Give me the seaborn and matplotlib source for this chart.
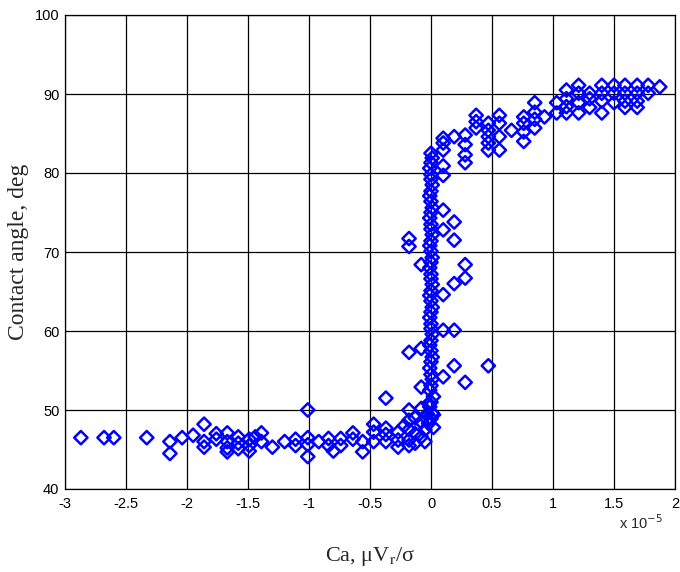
import matplotlib
matplotlib.use("Agg")
import matplotlib.pyplot as plt
import seaborn as sns
import pandas as pd

# Capillary number (units of 1e-5) and contact angle (deg)
flat_ca = [-2.87, -2.68, -2.60, -2.33, -2.14, -2.14, -2.04, -1.95, -1.86, -1.86,
           -1.86, -1.76, -1.76, -1.67, -1.67, -1.67, -1.67, -1.58, -1.58, -1.58,
           -1.49, -1.49, -1.49, -1.44, -1.39, -1.39, -1.30, -1.20, -1.11, -1.11,
           -1.01, -1.01, -1.01, -1.01, -0.92, -0.84, -0.84, -0.80, -0.74, -0.74,
           -0.64, -0.64, -0.56, -0.56, -0.47, -0.47, -0.47, -0.37, -0.37, -0.37,
           -0.37, -0.27, -0.27, -0.27, -0.22, -0.18, -0.18, -0.18, -0.18, -0.18,
           -0.13, -0.13, -0.13, -0.08, -0.08, -0.08, -0.08, -0.05, -0.05, -0.03]
flat_angle = [46.5, 46.5, 46.5, 46.5, 46.0, 44.5, 46.5, 46.8, 48.2, 46.0,
              45.3, 47.0, 46.3, 47.1, 46.0, 45.2, 44.7, 46.6, 45.8, 45.1,
              46.3, 45.5, 44.8, 46.6, 47.1, 46.0, 45.3, 46.0, 46.3, 45.5,
              50.0, 46.5, 45.6, 44.1, 46.0, 46.4, 45.5, 44.8, 46.4, 45.5,
              47.1, 46.3, 46.0, 44.7, 48.2, 47.2, 46.0, 51.5, 47.7, 46.9,
              46.0, 47.2, 46.2, 45.3, 48.0, 50.0, 48.7, 47.5, 46.2, 45.5,
              49.0, 47.0, 45.8, 52.9, 50.2, 48.5, 46.6, 47.5, 46.0, 49.5]

column_ca = [-0.02, 0.00, 0.01, -0.01, 0.00, 0.02, -0.01, 0.00, 0.01, 0.00,
             -0.01, 0.00, 0.01, 0.00, -0.01, 0.00, 0.01, 0.00, 0.00, -0.01,
             0.00, 0.01, 0.00, -0.01, 0.00, 0.01, 0.00, 0.00, -0.01, 0.00,
             0.01, 0.00, -0.01, 0.00, 0.01, 0.00, 0.00, -0.01, 0.00, 0.01,
             0.00, -0.01, 0.00, 0.01, 0.00, 0.00, -0.01, 0.00, 0.01, 0.00,
             -0.03, 0.02, -0.02, 0.02]
column_angle = [48.3, 48.9, 49.6, 50.4, 51.0, 51.7, 52.5, 53.1, 53.9, 54.5,
                55.3, 56.1, 56.7, 57.5, 58.2, 58.8, 59.6, 60.3, 60.9, 61.7,
                62.4, 63.0, 63.8, 64.5, 65.1, 65.9, 66.6, 67.2, 68.0, 68.7,
                69.3, 70.1, 70.8, 71.4, 72.2, 72.9, 73.5, 74.3, 75.0, 75.6,
                76.4, 77.1, 77.7, 78.5, 79.2, 79.8, 80.6, 81.3, 81.9, 82.5,
                48.8, 49.4, 50.8, 47.8]

side_ca = [-0.18, -0.18, -0.08, 0.10, 0.10, 0.19, 0.19, 0.28, 0.28, 0.19,
           0.10, 0.10, 0.19, -0.18, -0.08, 0.10, 0.19, 0.28, 0.47]
side_angle = [71.7, 70.7, 68.4, 75.3, 72.8, 73.8, 71.5, 68.4, 66.7, 66.0,
              64.6, 60.1, 60.1, 57.3, 57.8, 54.2, 55.6, 53.5, 55.6]

upper_ca = [0.10, 0.10, 0.10, 0.10, 0.10, 0.19, 0.28, 0.28, 0.28, 0.28,
            0.37, 0.37, 0.37, 0.47, 0.47, 0.47, 0.47, 0.47, 0.56, 0.56,
            0.56, 0.56, 0.66, 0.76, 0.76, 0.76, 0.76, 0.85, 0.85, 0.85,
            0.85, 0.93, 1.03, 1.03, 1.11, 1.11, 1.11, 1.11, 1.21, 1.21,
            1.21, 1.21, 1.30, 1.30, 1.30, 1.40, 1.40, 1.40, 1.40, 1.50,
            1.50, 1.50, 1.59, 1.59, 1.59, 1.59, 1.69, 1.69, 1.69, 1.69,
            1.78, 1.78, 1.875]
upper_angle = [84.4, 83.8, 82.9, 80.9, 79.7, 84.6, 84.8, 83.6, 82.3, 81.3,
               87.3, 86.5, 85.7, 86.3, 85.4, 84.6, 83.8, 82.9, 87.3, 86.3,
               84.6, 82.9, 85.4, 87.1, 86.3, 85.2, 84.0, 88.9, 87.7, 86.8,
               85.7, 87.1, 88.9, 87.6, 90.5, 89.4, 88.4, 87.6, 91.1, 90.1,
               88.9, 87.6, 90.1, 89.4, 88.3, 91.1, 90.1, 89.1, 87.6, 91.1,
               90.1, 88.9, 91.1, 90.1, 89.1, 88.3, 91.1, 90.1, 89.1, 88.3,
               91.1, 90.1, 90.9]

x_ticks = [-3, -2.5, -2, -1.5, -1, -0.5, 0, 0.5, 1, 1.5, 2]
x_tick_labels = ["-3", "-2.5", "-2", "-1.5", "-1", "-0.5", "0", "0.5", "1", "1.5", "2"]
y_ticks = [40, 50, 60, 70, 80, 90, 100]
y_tick_labels = ["40", "50", "60", "70", "80", "90", "100"]

df = pd.DataFrame({
    "Ca": flat_ca + column_ca + side_ca + upper_ca,
    "angle": flat_angle + column_angle + side_angle + upper_angle,
})

sns.set_style("white")
plt.rcParams["font.family"] = ["Liberation Sans", "DejaVu Sans"]
plt.rcParams["axes.unicode_minus"] = False
plt.rcParams["mathtext.fontset"] = "stix"

fig = plt.figure(figsize=(6.8, 5.72), dpi=100)
ax = fig.add_axes([65 / 680, 1 - 489 / 572, 610 / 680, 474 / 572])

sns.scatterplot(data=df, x="Ca", y="angle", ax=ax, marker="D", s=46,
                facecolors="none", edgecolor="#0000FF", linewidth=1.8,
                legend=False, zorder=3)

ax.set_xlim(-3, 2)
ax.set_ylim(40, 100)
ax.set_xticks(x_ticks)
ax.set_xticklabels(x_tick_labels)
ax.set_yticks(y_ticks)
ax.set_yticklabels(y_tick_labels)
ax.grid(True, color="black", linewidth=0.9, linestyle="-")
ax.set_axisbelow(True)
for sp in ax.spines.values():
    sp.set_color("black")
    sp.set_linewidth(0.9)
ax.tick_params(direction="in", length=4, labelsize=10.5, colors="black")
ax.tick_params(axis="x", pad=6)
ax.tick_params(axis="y", pad=4)

ax.set_xlabel("Ca, \u03bcV$_{\\mathrm{r}}$/\u03c3", fontsize=16,
              family=["Liberation Serif"], labelpad=24)
ax.set_ylabel("Contact angle, deg", fontsize=17, family=["Liberation Serif"],
              labelpad=4)
ax.text((663 - 65) / 610, -0.072, r"x 10$^{-5}$", transform=ax.transAxes,
        fontsize=10.5, ha="right", va="center", family=["Liberation Sans"],
        math_fontfamily="dejavusans")

fig.savefig("out.png", dpi=100)
